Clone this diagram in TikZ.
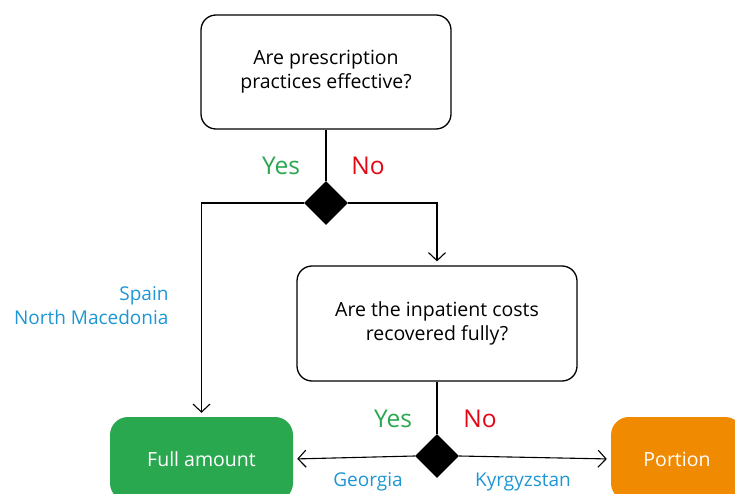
\documentclass[tikz,border=0pt]{standalone}
\usepackage{fontspec}
\setmainfont{Open Sans}
\usetikzlibrary{positioning,arrows.meta,shapes.geometric}
\definecolor{cyes}{HTML}{2AA84F}
\definecolor{cno}{HTML}{E30613}
\definecolor{cland}{HTML}{1E96D4}
\definecolor{cfull}{HTML}{2AA84F}
\definecolor{cpart}{HTML}{F08A00}
\tikzset{
  qbox/.style={rectangle, rounded corners=15pt, draw=black, line width=1.3pt,
               minimum width=250pt, minimum height=114pt, align=center,
               font=\fontsize{19.5}{24}\selectfont},
  dec/.style={diamond, fill=black, inner sep=0pt, minimum width=44pt, minimum height=44pt},
  res/.style={rectangle, rounded corners=18pt, draw=none, text=white,
              minimum height=84pt, font=\fontsize{19.5}{22}\selectfont},
  ans/.style={font=\fontsize{24.5}{26}\selectfont},
  land/.style={text=cland, align=right, font=\fontsize{19}{24}\selectfont},
  flow/.style={-{Straight Barb[length=8pt,width=17pt]}, line width=1.1pt, shorten >=4pt},
  link/.style={line width=1.1pt}
}
\begin{document}
\begin{tikzpicture}[x=1pt,y=-1pt]
\useasboundingbox (0,0) rectangle (735,494);
\clip (0,0) rectangle (735,494);
\node[qbox] (q1) at (326,72) {Are prescription\\practices effective?};
\node[dec] (d1) at (326,203) {};
\node[ans, text=cyes] (y1) at (281,166) {Yes};
\node[ans, text=cno] (n1) at (368,166) {No};
\node[qbox, minimum width=280pt, minimum height=115pt] (q2) at (437,323.5) {Are the inpatient costs\\recovered fully?};
\node[dec] (d2) at (437,456) {};
\node[ans, text=cyes] (y2) at (393,419) {Yes};
\node[ans, text=cno] (n2) at (480,419) {No};
\node[res, fill=cfull, minimum width=183pt] (full) at (201.5,459) {Full amount};
\node[res, fill=cpart, minimum width=132pt] (part) at (677,459) {Portion};
\node[land, anchor=east] (l1) at (172,306) {Spain\\North Macedonia};
\node[land] (l2) at (368,482) {Georgia};
\node[land] (l3) at (523,482) {Kyrgyzstan};
\draw[link] (q1) -- (d1);
\draw[flow] (d1.west) -| (full.north);
\draw[flow] (d1.east) -| (q2.north);
\draw[link] (q2) -- (d2);
\draw[flow] (d2.west) -- (full.east);
\draw[flow] (d2.east) -- (part.west);
\end{tikzpicture}
\end{document}
